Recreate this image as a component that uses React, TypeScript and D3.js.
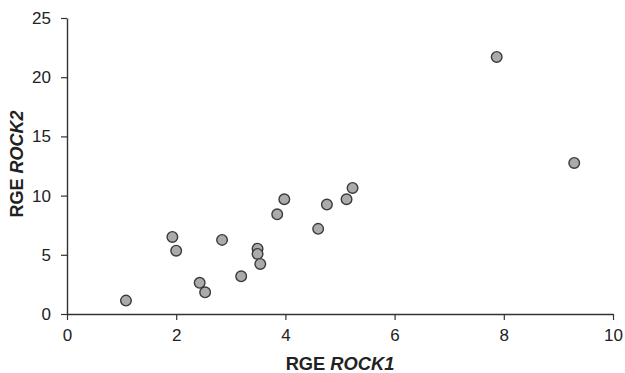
import { useEffect, useRef } from 'react';
import * as d3 from 'd3';

// RGE values
const rock1 = [1.08, 1.93, 2.0, 2.43, 2.53, 2.84, 3.19, 3.49, 3.49, 3.54, 3.85, 3.98, 4.6, 4.76, 5.12, 5.23, 7.87, 9.29];
const rock2 = [1.13, 6.51, 5.35, 2.63, 1.83, 6.26, 3.18, 5.52, 5.07, 4.23, 8.42, 9.69, 7.19, 9.24, 9.69, 10.65, 21.71, 12.76];
const xTicks = [0, 2, 4, 6, 8, 10];
const yTicks = [0, 5, 10, 15, 20, 25];

const width = 625;
const height = 373;
const margin = { top: 18, right: 12, bottom: 59, left: 67 };

const App = () => {
  const svgRef = useRef<SVGSVGElement | null>(null);

  useEffect(() => {
    const svg = d3.select(svgRef.current);
    svg.selectAll('*').remove();

    const innerWidth = width - margin.left - margin.right;
    const innerHeight = height - margin.top - margin.bottom;

    const x = d3.scaleLinear().domain([0, 10]).range([0, innerWidth]);
    const y = d3.scaleLinear().domain([0, 25]).range([innerHeight, 0]);

    const g = svg.append('g')
      .attr('transform', `translate(${margin.left},${margin.top})`);

    const font = '"Liberation Sans", Arial, sans-serif';

    // axes
    const xAxis = g.append('g')
      .attr('transform', `translate(0,${innerHeight})`)
      .call(d3.axisBottom(x).tickValues(xTicks).tickSize(6).tickSizeOuter(0).tickPadding(9));
    const yAxis = g.append('g')
      .call(d3.axisLeft(y).tickValues(yTicks).tickSize(6).tickSizeOuter(0).tickPadding(10));

    [xAxis, yAxis].forEach(a => {
      a.select('.domain').attr('stroke', '#333').attr('stroke-width', 1.4);
      a.selectAll('.tick line').attr('stroke', '#333').attr('stroke-width', 1.2);
      a.selectAll('.tick text')
        .attr('fill', '#222')
        .style('font-family', font)
        .style('font-size', '17px');
    });

    // points
    g.selectAll('circle')
      .data(rock1.map((v, i) => ({ x: v, y: rock2[i] })))
      .enter()
      .append('circle')
      .attr('cx', d => x(d.x))
      .attr('cy', d => y(d.y))
      .attr('r', 5.3)
      .attr('fill', '#ababab')
      .attr('stroke', '#3a3a3a')
      .attr('stroke-width', 1.4);

    // axis titles
    const xt = svg.append('text')
      .attr('x', 340)
      .attr('y', 370)
      .attr('text-anchor', 'middle')
      .attr('fill', '#222')
      .style('font-family', font)
      .style('font-size', '18.3px')
      .style('font-weight', 'bold');
    xt.append('tspan').text('RGE ');
    xt.append('tspan').style('font-style', 'italic').text('ROCK1');

    const yt = svg.append('text')
      .attr('transform', 'translate(23,164) rotate(-90)')
      .attr('text-anchor', 'middle')
      .attr('fill', '#222')
      .style('font-family', font)
      .style('font-size', '18px')
      .style('font-weight', 'bold');
    yt.append('tspan').text('RGE ');
    yt.append('tspan').style('font-style', 'italic').text('ROCK2');
  }, []);

  return (
    <svg ref={svgRef} width={width} height={height}
      style={{ position: 'absolute', left: 0, top: 0, background: '#fff' }} />
  );
};

export default App;
